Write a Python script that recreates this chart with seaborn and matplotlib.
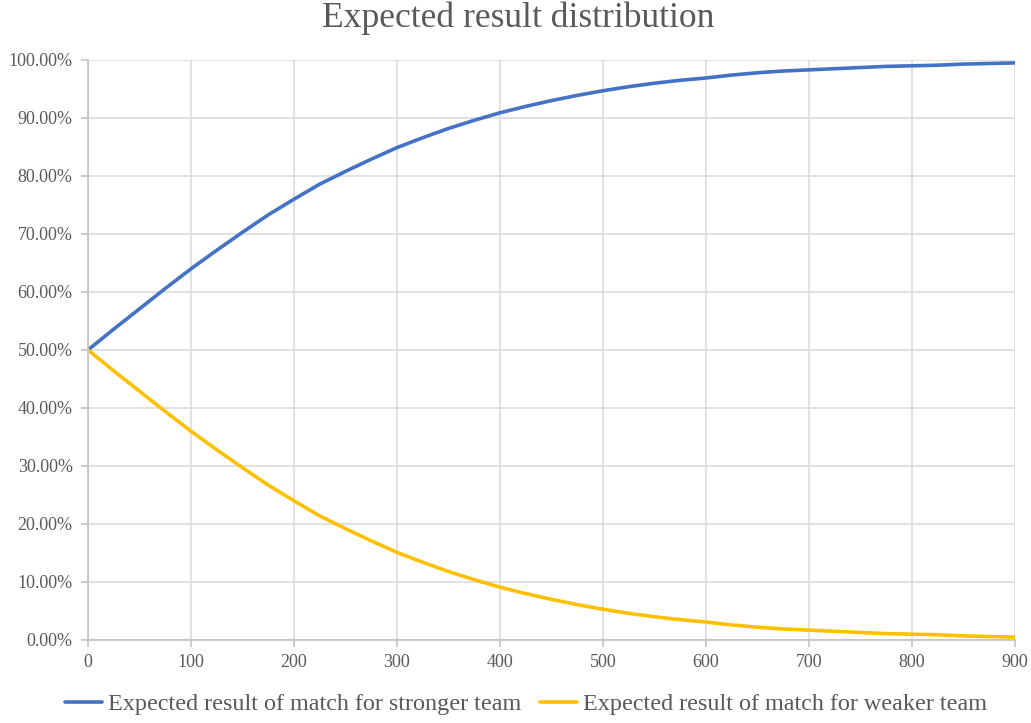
import matplotlib
matplotlib.use("Agg")
import matplotlib.pyplot as plt
import seaborn as sns
import pandas as pd
from matplotlib.ticker import FuncFormatter, MultipleLocator

# Rating difference between the teams
rating_diff = [0, 25, 50, 75, 100, 125, 150, 175, 200, 225, 250, 275, 300,
               325, 350, 375, 400, 425, 450, 475, 500, 525, 550, 575, 600,
               625, 650, 675, 700, 725, 750, 775, 800, 825, 850, 875, 900]
# Expected result for the stronger team (share of points)
stronger = [0.500, 0.536, 0.571, 0.606, 0.640, 0.672, 0.703, 0.733, 0.760,
            0.786, 0.808, 0.829, 0.849, 0.866, 0.882, 0.896, 0.909, 0.920,
            0.930, 0.939, 0.947, 0.954, 0.960, 0.965, 0.969, 0.974, 0.978,
            0.981, 0.983, 0.985, 0.987, 0.989, 0.990, 0.991, 0.993, 0.994,
            0.995]
# Expected result for the weaker team
weaker = [0.500, 0.464, 0.429, 0.394, 0.360, 0.328, 0.297, 0.267, 0.240,
          0.214, 0.192, 0.171, 0.151, 0.134, 0.118, 0.104, 0.091, 0.080,
          0.070, 0.061, 0.053, 0.046, 0.040, 0.035, 0.031, 0.026, 0.022,
          0.019, 0.017, 0.015, 0.013, 0.011, 0.010, 0.009, 0.007, 0.006,
          0.005]

label_strong = "Expected result of match for stronger team"
label_weak = "Expected result of match for weaker team"

df = pd.DataFrame({"diff": rating_diff * 2,
                   "value": stronger + weaker,
                   "series": [label_strong] * len(rating_diff) + [label_weak] * len(rating_diff)})

sns.set_style("white")
plt.rcParams["font.family"] = ["Liberation Serif", "DejaVu Serif"]
text_color = "#595959"
grid_color = "#D9D9D9"

fig = plt.figure(figsize=(10.31, 7.23), dpi=100)
ax = fig.add_axes([88 / 1031, 1 - 640 / 723, (1015 - 88) / 1031, (640 - 60) / 723])

sns.lineplot(data=df, x="diff", y="value", hue="series",
             palette={label_strong: "#4472C4", label_weak: "#FFC000"},
             linewidth=2.6, ax=ax, legend=True)
for line in ax.get_lines():
    line.set_solid_joinstyle("round")
    line.set_solid_capstyle("round")

ax.set_xlim(0, 900)
ax.set_ylim(0, 1.0)
ax.xaxis.set_major_locator(MultipleLocator(100))
ax.yaxis.set_major_locator(MultipleLocator(0.1))
ax.yaxis.set_major_formatter(FuncFormatter(lambda v, _: f"{v * 100:.2f}%"))
ax.grid(True, color=grid_color, linewidth=1.1)
ax.set_axisbelow(True)
for side in ["top", "right"]:
    ax.spines[side].set_visible(False)
for side in ["left", "bottom"]:
    ax.spines[side].set_color("#BFBFBF")
    ax.spines[side].set_linewidth(1.1)
ax.tick_params(axis="both", which="major", length=5, width=1.1, color="#BFBFBF",
               labelsize=13, labelcolor=text_color, direction="out", bottom=True, left=True)
ax.tick_params(axis="y", pad=6)
ax.tick_params(axis="x", pad=5)
ax.set_xlabel("")
ax.set_ylabel("")

fig.text(518 / 1031, 1 - 27 / 723, "Expected result distribution", fontsize=25.6,
         color=text_color, ha="center", va="baseline")

handles, labels = ax.get_legend_handles_labels()
fig.legend(handles, labels, loc="center", bbox_to_anchor=(526 / 1031, 1 - 704 / 723), ncol=2,
           frameon=False, fontsize=17.4, labelcolor=text_color, handlelength=1.53,
           handletextpad=0.25, columnspacing=0.75, borderpad=0, borderaxespad=0)
ax.get_legend().remove()

fig.savefig("out.png", dpi=100)
